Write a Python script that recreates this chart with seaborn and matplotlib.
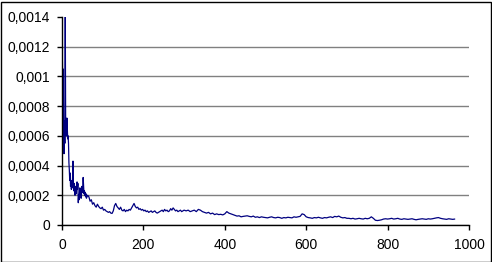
import numpy as np
import pandas as pd
import matplotlib
matplotlib.use("Agg")
import matplotlib.pyplot as plt
import seaborn as sns
from matplotlib.ticker import FuncFormatter
from matplotlib.patches import Rectangle

# values in units of 1e-6
y_early = [1100, 800, 1050, 600, 480, 700, 550, 1400, 650, 700,
           600, 720, 640, 580, 600, 550, 420, 370, 300, 350,
           260, 300, 240, 280, 250, 320, 430, 260, 230, 280,
           240, 200, 260, 230, 210, 260, 290, 240, 280, 150,
           200, 170, 210, 250, 200, 230, 180, 210, 260, 220,
           240, 320, 260, 210, 230, 200, 220, 190, 210, 180]
y_mid = [200, 190, 160, 170, 140, 150, 130, 120, 140, 125,
         115, 110, 120, 100, 105, 95, 90, 85, 90, 80,
         78, 95, 130, 145, 125, 115, 105, 120, 100, 95,
         105, 90, 100, 95, 105, 100, 115, 130, 145, 125,
         115, 120, 105, 110, 100, 105, 95, 100, 90, 95,
         85, 90, 95, 85, 90, 95, 85, 80, 85, 90,
         95, 100, 90, 105, 95, 100, 90, 95, 110, 100,
         115, 105, 95, 100, 90, 95, 100, 90, 95, 100]
y_late = [95, 100, 90, 95, 100, 90, 105, 100,
          90, 85, 80, 85, 75, 80, 70, 75, 70, 72, 68, 75,
          90, 80, 75, 70, 65, 60, 62, 55, 58, 60,
          62, 58, 55, 60, 52, 55, 50, 55, 52, 50,
          48, 52, 55, 50, 48, 52, 50, 45, 50, 48,
          52, 50, 48, 55, 52, 55, 58, 75, 70, 55,
          50, 48, 45, 50, 48, 52, 48, 45, 50, 48,
          52, 55, 50, 58, 55, 60, 52, 48, 50, 45,
          45, 42, 45, 40, 42, 45, 42, 40, 45, 42,
          45, 55, 45, 32, 30, 32, 35, 40, 42, 40,
          42, 45, 40, 42, 45, 40, 38, 42, 40, 38,
          40, 42, 38, 35, 38, 40, 42, 40, 38, 42,
          40, 42, 45, 48, 50, 45, 42, 40, 38, 42,
          40, 38, 40]

x_early = list(range(1, 1 + len(y_early)))
x_mid = list(range(63, 63 + 3 * len(y_mid), 3))
x_late = list(range(305, 305 + 5 * len(y_late), 5))

y_ticks = [0, 0.0002, 0.0004, 0.0006, 0.0008, 0.001, 0.0012, 0.0014]
x_ticks = [0, 200, 400, 600, 800, 1000]

df = pd.DataFrame({
    "x": x_early + x_mid + x_late,
    "y": [v * 1e-6 for v in (y_early + y_mid + y_late)],
})

sns.set_style("white")
plt.rcParams["font.family"] = ["Liberation Sans", "DejaVu Sans"]

fig = plt.figure(figsize=(4.92, 2.62), dpi=100)
ax = fig.add_axes([62 / 492, 1 - 225 / 262, (469 - 62) / 492, (225 - 17) / 262])

sns.lineplot(data=df, x="x", y="y", ax=ax, color="#000080", linewidth=0.9)

ax.set_xlim(0, 1000)
ax.set_ylim(0, 0.0014)
ax.set_xticks(x_ticks)
ax.set_yticks(y_ticks)
ax.yaxis.set_major_formatter(FuncFormatter(lambda v, p: f"{v:g}".replace(".", ",")))
ax.xaxis.set_major_formatter(FuncFormatter(lambda v, p: f"{v:g}"))
ax.set_xlabel("")
ax.set_ylabel("")

ax.grid(axis="y", color="#808080", linewidth=1.0)
ax.grid(axis="x", visible=False)
ax.get_ygridlines()[-1].set_visible(False)
ax.set_axisbelow(True)

for s in ["top", "right"]:
    ax.spines[s].set_visible(False)
for s in ["left", "bottom"]:
    ax.spines[s].set_color("black")
    ax.spines[s].set_linewidth(1.0)

ax.tick_params(axis="both", direction="out", length=3.5, width=1.0, color="black",
               labelsize=10, labelcolor="black", pad=3)
ax.tick_params(axis="x", pad=6)
ax.tick_params(axis="y", left=True, pad=5)
ax.tick_params(axis="x", bottom=True)

fig.patches.append(Rectangle((0.5 / 492, 0.5 / 262), 1 - 2 / 492, 1 - 2 / 262,
                             transform=fig.transFigure, fill=False,
                             edgecolor="black", linewidth=1.0))

fig.savefig("out.png", dpi=100)
